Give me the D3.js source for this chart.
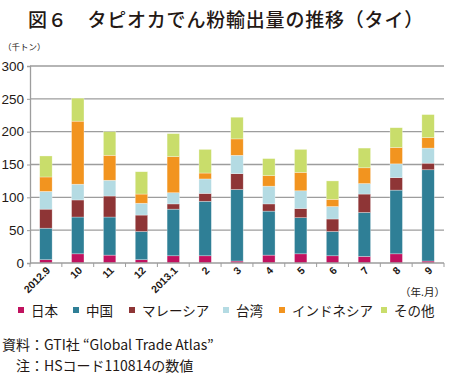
<!DOCTYPE html>
<html>
<head>
<meta charset="utf-8">
<script src="https://cdn.jsdelivr.net/npm/d3@7"></script>
<style>
  body { margin: 0; background: #fff; }
  text { font-family: "Noto Sans CJK JP", "Noto Sans", sans-serif; fill: #231815; }
  .tick text { font-family: "Liberation Sans", Arial, sans-serif; }
</style>
</head>
<body>
<svg id="chart" width="450" height="386"></svg>
<script>
// months on the x axis
let months = ['2012.9', '10', '11', '12', '2013.1', '2', '3', '4', '5', '6', '7', '8', '9'];

// exports by destination (thousand tonnes)
let japan     = [5, 14, 12, 5, 11, 11, 3, 12, 14, 11, 10, 14, 3];
let china     = [48, 56, 58, 43, 71, 83, 109, 67, 55, 37, 67, 97, 139];
let malaysia  = [29, 26, 32, 25, 8, 12, 24, 11, 14, 19, 28, 19, 10];
let taiwan    = [27, 24, 24, 18, 17, 22, 28, 27, 27, 19, 16, 21, 23];
let indonesia = [22, 96, 38, 14, 55, 9, 25, 16, 28, 11, 24, 25, 16];
let others    = [32, 35, 36, 34, 35, 36, 33, 26, 35, 28, 30, 30, 35];

let seriesNames = ['日本', '中国', 'マレーシア', '台湾', 'インドネシア', 'その他'];
let seriesColors = ['#c0125f', '#2f7f96', '#8e3536', '#b4dbe3', '#f2941f', '#c9dd6b'];
let yTicks = [0, 50, 100, 150, 200, 250, 300];

let seriesValues = [japan, china, malaysia, taiwan, indonesia, others];
let rows = months.map(function(m, i) {
  let row = { month: m };
  seriesNames.forEach(function(s, j) { row[s] = seriesValues[j][i]; });
  return row;
});

let svg = d3.select('#chart');
let plotLeft = 30, plotRight = 444, plotTop = 66, plotBottom = 263;

let x = d3.scaleBand().domain(months).range([plotLeft, plotRight]).paddingInner(0.61).paddingOuter(0.305);
let y = d3.scaleLinear().domain([0, 300]).range([plotBottom, plotTop]);
let color = d3.scaleOrdinal().domain(seriesNames).range(seriesColors);

// title
svg.append('text')
  .attr('x', 226).attr('y', 27)
  .attr('text-anchor', 'middle')
  .style('font-size', '19px')
  .style('font-weight', 500)
  .style('letter-spacing', '0.8px')
  .attr('fill', '#2a2a2a')
  .text('図６　タピオカでん粉輸出量の推移（タイ）');

svg.append('text')
  .attr('x', 3).attr('y', 50)
  .style('font-size', '8.5px')
  .text('（千トン）');

// grid lines
svg.append('g')
  .selectAll('line')
  .data(yTicks.slice(1))
  .enter()
  .append('line')
  .attr('x1', plotLeft).attr('x2', plotRight)
  .attr('y1', function(d) { return y(d); })
  .attr('y2', function(d) { return y(d); })
  .attr('stroke', '#9d9d9d')
  .attr('stroke-width', 1.3);

// y axis
let yAxis = svg.append('g')
  .attr('transform', `translate(${plotLeft},0)`)
  .call(d3.axisLeft(y).tickValues(yTicks).tickSize(3).tickPadding(3));
yAxis.select('.domain').attr('stroke', '#9d9d9d').attr('stroke-width', 1.3);
yAxis.selectAll('.tick line').attr('stroke', '#9d9d9d');
yAxis.selectAll('.tick text').style('font-size', '13.5px').attr('fill', '#231815');

// stacked bars
let stacked = d3.stack().keys(seriesNames)(rows);

svg.append('g')
  .selectAll('g')
  .data(stacked)
  .enter()
  .append('g')
  .attr('fill', function(d) { return color(d.key); })
  .selectAll('rect')
  .data(function(d) { return d; })
  .enter()
  .append('rect')
  .attr('x', function(d) { return x(d.data.month); })
  .attr('width', x.bandwidth())
  .attr('y', function(d) { return y(d[1]); })
  .attr('height', function(d) { return y(d[0]) - y(d[1]); })
  .attr('stroke', '#ffffff')
  .attr('stroke-opacity', 0.5)
  .attr('stroke-width', 0.6);

// x axis
let xAxisLine = svg.append('g').attr('transform', `translate(0,${plotBottom})`);
xAxisLine.append('line')
  .attr('x1', plotLeft).attr('x2', plotRight)
  .attr('stroke', '#9d9d9d').attr('stroke-width', 1.3);
xAxisLine.selectAll('line.tk')
  .data(months.concat(['end']))
  .enter()
  .append('line')
  .attr('class', 'tk')
  .attr('x1', function(d, i) { return plotLeft + i * x.step(); })
  .attr('x2', function(d, i) { return plotLeft + i * x.step(); })
  .attr('y1', 0).attr('y2', 4)
  .attr('stroke', '#9d9d9d').attr('stroke-width', 1);

svg.append('g')
  .selectAll('text')
  .data(months)
  .enter()
  .append('text')
  .attr('transform', function(d) {
    return `translate(${x(d) + x.bandwidth() / 2 + 5},${plotBottom + 8}) rotate(-45)`;
  })
  .attr('text-anchor', 'end')
  .style('font-family', '"Liberation Sans", Arial, sans-serif')
  .style('font-size', '10.5px')
  .style('font-weight', 'bold')
  .text(function(d) { return d; });

svg.append('text')
  .attr('x', 445).attr('y', 296)
  .attr('text-anchor', 'end')
  .style('font-size', '10.5px')
  .text('（年.月）');

// legend
let legendX = [18, 73, 129, 223, 279, 381];
let legend = svg.append('g')
  .selectAll('g')
  .data(seriesNames)
  .enter()
  .append('g')
  .attr('transform', function(d, i) { return `translate(${legendX[i]},307)`; });
legend.append('rect')
  .attr('width', 6).attr('height', 6)
  .attr('fill', function(d) { return color(d); });
legend.append('text')
  .attr('x', 13).attr('y', 9)
  .style('font-size', '13.5px')
  .text(function(d) { return d; });

// notes
svg.append('text')
  .attr('x', 2).attr('y', 350)
  .style('font-size', '14px')
  .text('資料：GTI社 “Global Trade Atlas”');
svg.append('text')
  .attr('x', 2).attr('y', 371)
  .style('font-size', '14px')
  .text('　注：HSコード110814の数値');
</script>
</body>
</html>
